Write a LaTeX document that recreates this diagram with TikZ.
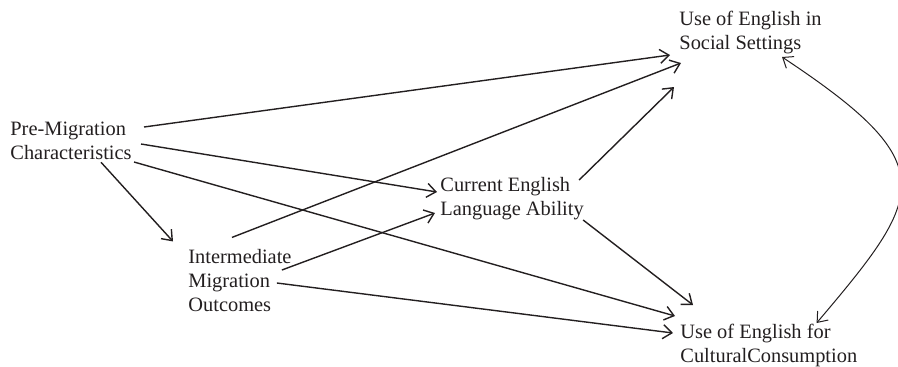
\documentclass[tikz,border=0pt]{standalone}
\usepackage{fontspec}
\setmainfont{Liberation Serif}
\usepackage{tikz}
\usetikzlibrary{positioning,calc,arrows.meta}

\definecolor{ink}{HTML}{231F20}

\tikzset{
    var/.style={align=left, anchor=west, inner sep=0pt, text=ink,
        font=\fontsize{10.2}{12}\selectfont},
    link/.style={draw=ink, line width=0.7pt,
        -{Straight Barb[length=4.5pt,width=7pt]}},
}

\begin{document}
\begin{tikzpicture}[x=0.5pt, y=-0.5pt]
    \useasboundingbox (0,0) rectangle (898,366);

    % variables
    \node[var] (pre) at (10,141) {Pre-Migration\\Characteristics};
    \node[var] (inter) at (188,281) {Intermediate\\Migration\\Outcomes};
    \node[var] (cur) at (440,199) {Current English\\Language Ability};
    \node[var] (soc) at (679,33) {Use of English in\\Social Settings};
    \node[var] (cult) at (680,345) {Use of English for\\CulturalConsumption};

    % paths from pre-migration
    \draw[link] ($(pre.east)+(12,-14)$) -- ($(soc.west)+(-9,22)$);
    \draw[link] ($(pre.east)+(9,3)$) -- ($(cur.west)+(-3,-7)$);
    \draw[link] ($(pre.east)+(2,21)$) -- ($(cult.west)+(-5,-29)$);
    \draw[link] ($(pre.south)+(30,2)$) -- ($(inter.north west)+(-15,-8)$);

    % paths from intermediate outcomes
    \draw[link] ($(inter.north)+(-8,-12)$) -- ($(soc.west)+(2,30)$);
    \draw[link] ($(inter.east)+(-10,-11)$) -- ($(cur.west)+(-5,14)$);
    \draw[link] ($(inter.east)+(-15,2)$) -- ($(cult.west)+(-7,-12)$);

    % paths from current ability
    \draw[link] ($(cur.east)+(-5,-19)$) -- ($(soc.west)+(-5,54)$);
    \draw[link] ($(cur.east)+(-1,21)$) -- ($(cult.west)+(13,-40)$);

    % correlation between outcomes
    \draw[draw=ink, line width=0.5pt,
        {Straight Barb[length=4.5pt,width=7pt]}-{Straight Barb[length=4.5pt,width=7pt]}]
        ($(soc.east)+(-40,24)$) .. controls (945,165) and (925,195) .. ($(cult.east)+(-41,-22)$);
\end{tikzpicture}
\end{document}
